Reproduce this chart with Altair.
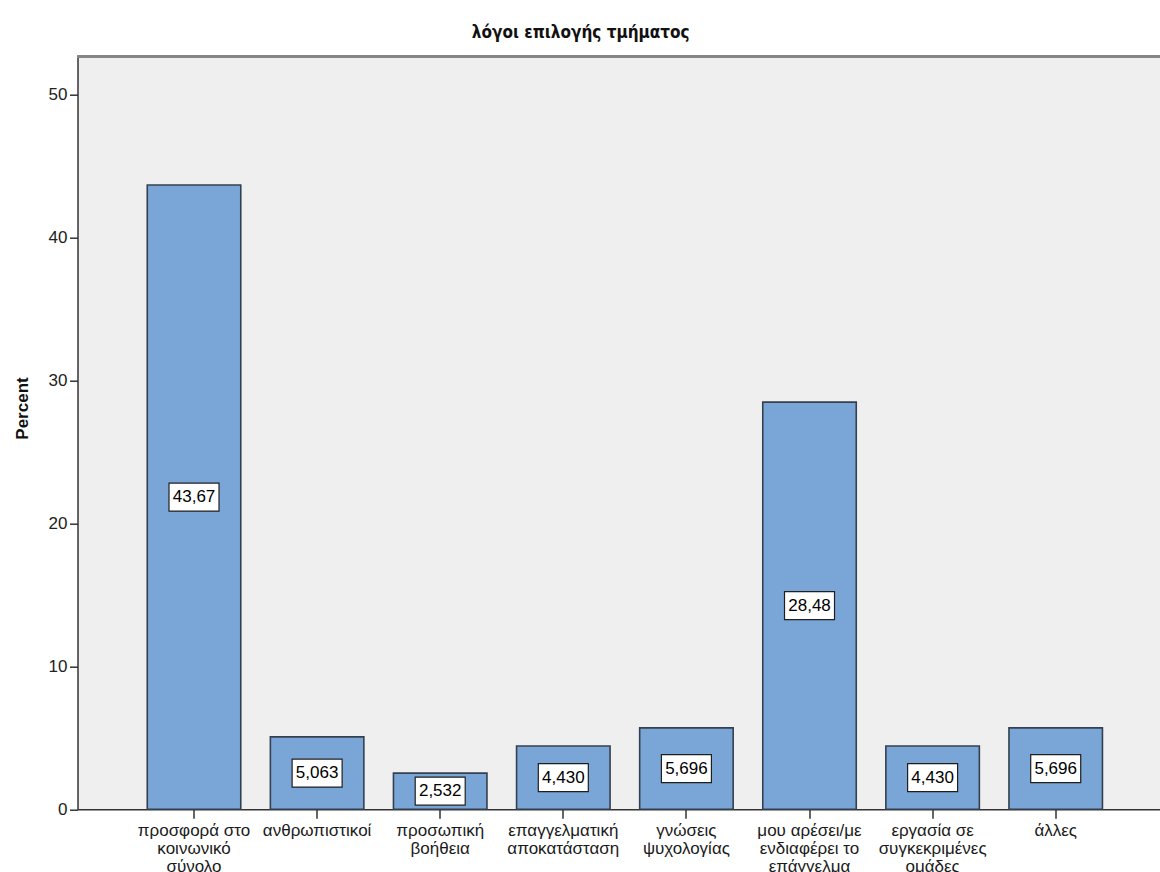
import altair as alt
import pandas as pd

# Reasons for choosing the department (percent of respondents)
categories = [
    "προσφορά στο\nκοινωνικό\nσύνολο",
    "ανθρωπιστικοί",
    "προσωπική\nβοήθεια",
    "επαγγελματική\nαποκατάσταση",
    "γνώσεις\nψυχολογίας",
    "μου αρέσει/με\nενδιαφέρει το\nεπάγγελμα",
    "εργασία σε\nσυγκεκριμένες\nομάδες",
    "άλλες",
]
percents = [43.67, 5.063, 2.532, 4.430, 5.696, 28.48, 4.430, 5.696]
y_ticks = [0, 10, 20, 30, 40, 50]

# value labels with a decimal comma, 4 significant digits
labels = [f"{v:#.4g}".replace(".", ",") for v in percents]

df = pd.DataFrame({"reason": categories, "percent": percents, "label": labels})
df["mid"] = df["percent"] / 2

W, H = 1082.5, 752.6
FONT = "Liberation Sans, Arial, sans-serif"
TITLE_FONT = "Liberation Sans Narrow, DejaVu Sans Condensed, Arial Narrow, Liberation Sans, sans-serif"

x_enc = alt.X(
    "reason:N",
    sort=categories,
    scale=alt.Scale(paddingInner=0.2405, paddingOuter=0.5171, align=0.548),
    axis=alt.Axis(
        title=None,
        labelAngle=0,
        labelExpr="split(datum.value, '\\n')",
        labelFont=FONT,
        labelFontSize=17,
        labelColor="#1a1a1a",
        labelLineHeight=18,
        labelPadding=4,
        labelLimit=0,
        labelOverlap=False,
        tickSize=9,
        tickColor="#333333",
        tickWidth=1.5,
        domainColor="#333333",
        domainWidth=1.5,
    ),
)

y_scale = alt.Scale(domain=[0, 52.64], nice=False, zero=True)

base = alt.Chart(df)

bars = base.mark_bar(
    color="#7aa6d7", stroke="#34404f", strokeWidth=1.6
).encode(
    x=x_enc,
    y=alt.Y(
        "percent:Q",
        scale=y_scale,
        axis=alt.Axis(
            title="Percent",
            values=y_ticks,
            grid=False,
            labelFont=FONT,
            labelFontSize=17,
            labelColor="#222222",
            labelPadding=2.5,
            tickSize=8,
            tickColor="#333333",
            tickWidth=1.5,
            domainColor="#333333",
            domainWidth=1.5,
            titleFont=FONT,
            titleFontSize=17,
            titleFontWeight="bold",
            titleColor="#111111",
            titleAngle=270,
            titleAlign="center",
            titleBaseline="middle",
            titleX=-55,
            titleY=351.3,
        ),
    ),
)

boxes = base.mark_point(
    shape="M-1,-0.56L1,-0.56L1,0.56L-1,0.56Z",
    size=2500,
    filled=True,
    fill="white",
    stroke="#1f1f1f",
    strokeWidth=1.2,
    opacity=1,
).encode(
    x=alt.X("reason:N", sort=categories),
    y=alt.Y("mid:Q", scale=y_scale),
)

texts = base.mark_text(
    font=FONT, fontSize=17, color="black", align="center", baseline="middle"
).encode(
    x=alt.X("reason:N", sort=categories),
    y=alt.Y("mid:Q", scale=y_scale),
    text="label:N",
)

top_border = alt.Chart(df).mark_rule(color="#858585", strokeWidth=2.5).encode(
    x=alt.value(0), x2=alt.value(W), y=alt.value(0)
)

chart = (
    alt.layer(bars, boxes, texts, top_border)
    .properties(
        width=W,
        height=H,
        autosize=alt.AutoSizeParams(type="none"),
        padding={"left": 77.5, "top": 56.7, "right": 0, "bottom": 62.7},
        title=alt.TitleParams(
            text="λόγοι επιλογής τμήματος",
            font=TITLE_FONT,
            fontSize=17,
            fontWeight="bold",
            color="#111111",
            anchor="middle",
            frame="group",
            baseline="alphabetic",
            offset=0,
            dx=-38,
        ),
        background="white",
    )
    .configure_view(stroke="transparent", fill="#efefef")
)

chart.save("out.html", embed_options={"renderer": "svg", "actions": False})
